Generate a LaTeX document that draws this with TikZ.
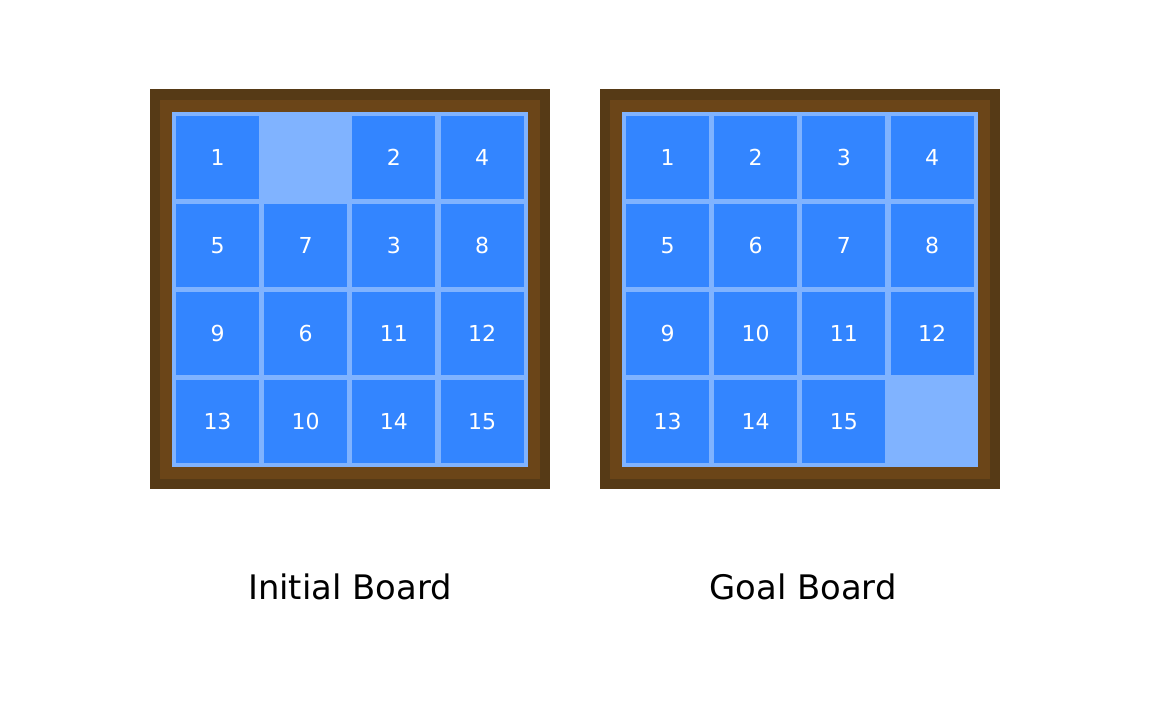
\documentclass[tikz,border=0pt]{standalone}
\usepackage{fontspec}
\setmainfont{DejaVu Sans}
\usepackage{xcolor}
\usetikzlibrary{positioning}
\definecolor{framec}{HTML}{563A16}
\definecolor{woodc}{HTML}{6B4518}
\definecolor{trayc}{HTML}{80B3FF}
\definecolor{tilec}{HTML}{3385FF}
\tikzset{
  tile/.style={fill=tilec,minimum size=83pt,inner sep=0pt,text=white,font=\fontsize{22}{22}\selectfont},
  lbl/.style={font=\fontsize{33.8}{34}\selectfont,text=black}
}

\begin{document}
\begin{tikzpicture}[x=1pt,y=-1pt]
\useasboundingbox (0,0) rectangle (1150,715);
% boards: frame, wood rim, tray
\foreach \dx in {0,450}{
  \fill[framec] (150+\dx,89) rectangle (550+\dx,489);
  \fill[woodc] (160+\dx,100) rectangle (540+\dx,479);
  \fill[trayc] (172+\dx,112) rectangle (528+\dx,467);
}
% initial board (0 = blank)
\foreach \n [count=\k from 0] in {1,0,2,4,5,7,3,8,9,6,11,12,13,10,14,15}{
  \pgfmathtruncatemacro\col{mod(\k,4)}
  \pgfmathtruncatemacro\row{div(\k,4)}
  \ifnum\n>0
    \node[tile] (i\n) at (217.5+88.2*\col,157.5+88*\row) {\n};
  \fi
}
% goal board
\foreach \n [count=\k from 0] in {1,2,3,4,5,6,7,8,9,10,11,12,13,14,15,0}{
  \pgfmathtruncatemacro\col{mod(\k,4)}
  \pgfmathtruncatemacro\row{div(\k,4)}
  \ifnum\n>0
    \node[tile] (g\n) at (667.5+88.2*\col,157.5+88*\row) {\n};
  \fi
}
\node[lbl] (initial) at (350,587) {Initial Board};
\node[lbl] (goal) at (803,587) {Goal Board};
\end{tikzpicture}
\end{document}
